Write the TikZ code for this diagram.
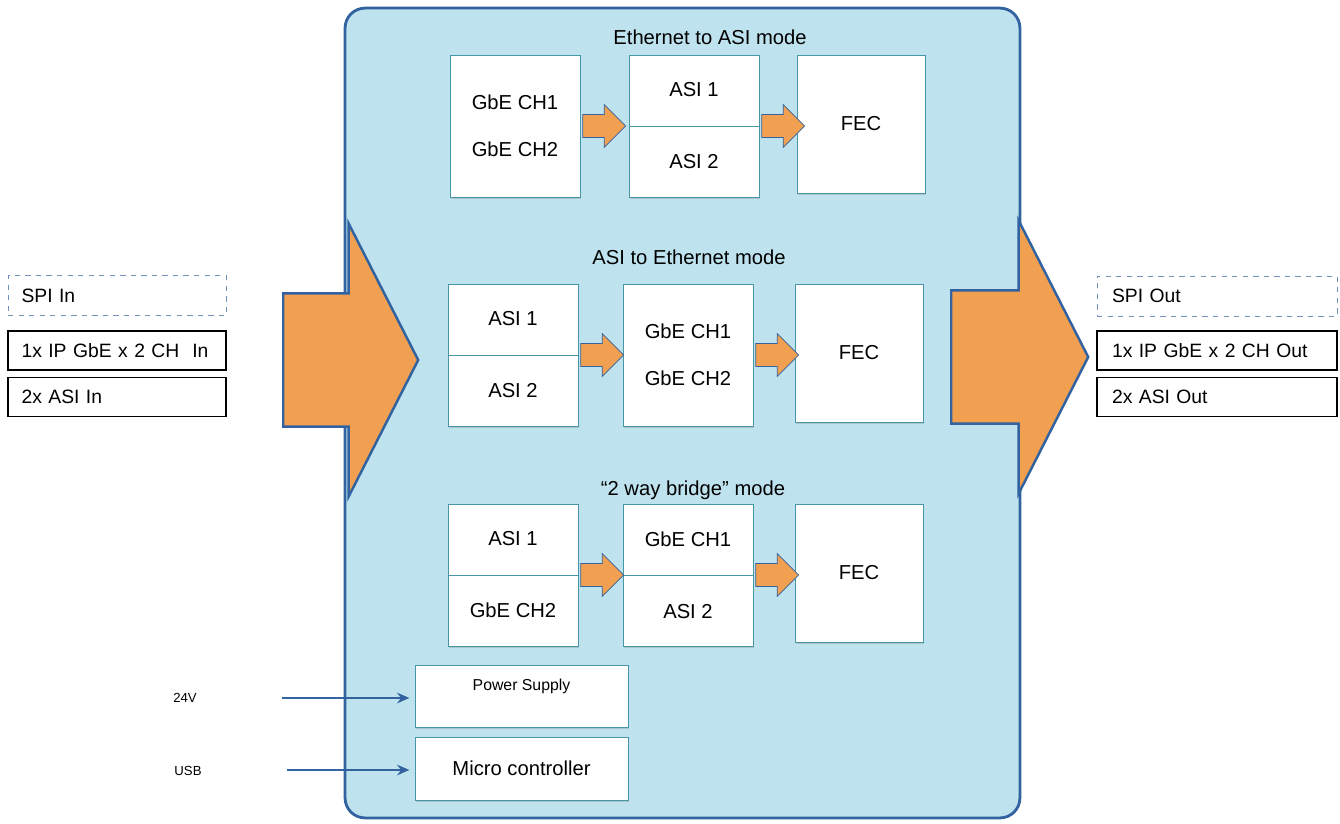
\documentclass[tikz,border=0pt]{standalone}
\usepackage{fontspec}
\setmainfont{Liberation Sans}
\usetikzlibrary{shadows,shapes.arrows,calc,arrows.meta}
\definecolor{panelblue}{RGB}{190,226,238}
\definecolor{edgeblue}{RGB}{50,98,160}
\definecolor{flowor}{RGB}{240,160,80}
\definecolor{blockedge}{RGB}{70,150,165}
\tikzstyle{panel}=[rectangle,draw=edgeblue,line width=1.6pt,fill=panelblue,rounded corners=0.4cm,minimum width=13.5cm,minimum height=16.2cm]
\tikzstyle{block}=[rectangle,draw=blockedge,fill=white,minimum width=2.6cm,minimum height=2.84cm,inner sep=0pt,align=center,font=\fontsize{11.5}{13}\selectfont,drop shadow={opacity=0.3,shadow xshift=0.6pt,shadow yshift=-1pt}]
\tikzstyle{fecblock}=[block,minimum width=2.56cm,minimum height=2.76cm]
\tikzstyle{flow}=[single arrow,draw=edgeblue,fill=flowor,minimum height=0.86cm,minimum width=0.86cm,single arrow head extend=0.2cm,inner xsep=0pt,inner ysep=0.22cm,anchor=tail]
\tikzstyle{bigflow}=[single arrow,draw=edgeblue,line width=1.4pt,fill=flowor,minimum height=2.7cm,minimum width=5.4cm,single arrow head extend=1.4cm,single arrow tip angle=126,inner xsep=0pt,inner ysep=1.31cm,anchor=tail]
\tikzstyle{portbox}=[draw=black,line width=1pt,minimum height=0.78cm,inner xsep=0.27cm,align=left,font=\fontsize{11}{13}\selectfont]
\tikzstyle{spibox}=[portbox,draw=edgeblue!70,dashed,line width=0.5pt,minimum height=0.8cm]
\tikzstyle{title}=[font=\fontsize{11.5}{13}\selectfont]
\tikzstyle{small}=[font=\fontsize{7.5}{9}\selectfont]
\tikzstyle{inarrow}=[draw=edgeblue,line width=1.4pt,-{Stealth[length=7pt,width=6pt]},shorten >=3pt]

\begin{document}
\begin{tikzpicture}[x=0.02cm,y=-0.02cm]
\useasboundingbox (0,0) rectangle (1340,823);

\node[panel] (panel) at (682.5,413) {};

% big in / out arrows
\node[bigflow] (bigin) at (282,360) {};
\node[bigflow,minimum height=2.74cm] (bigout) at (950,357) {};

% mode titles
\node[title] (t1) at (710,37) {Ethernet to ASI mode};
\node[title] (t2) at (689,257) {ASI to Ethernet mode};
\node[title] (t3) at (693,490) {``2 way bridge'' mode};

% mode blocks
\foreach \pos/ \name/ \txt in {{(515,126)/ea1/{GbE CH1\\[14pt]GbE CH2}}, {(694,126)/ea2/{ASI 1\\[28pt]ASI 2}},
                               {(513,355)/ae1/{ASI 1\\[28pt]ASI 2}}, {(688,355)/ae2/{GbE CH1\\[14pt]GbE CH2}},
                               {(513,575)/br1/{ASI 1\\[28pt]GbE CH2}}, {(688,575)/br2/{GbE CH1\\[28pt]ASI 2}}}
    \node[block] (\name) at \pos {\txt};

\foreach \pos/ \name in {{(861,124)/ea3}, {(859,353)/ae3}, {(859,573)/br3}}
    \node[fecblock] (\name) at \pos {FEC};

% split lines
\foreach \name in {ea2, ae1, br1, br2}
    \draw[blockedge] (\name.west) -- (\name.east);

% flow arrows between blocks
\foreach \source/ \dest in {ea1/ea2, ea2/ea3, ae1/ae2, ae2/ae3, br1/br2, br2/br3}
    \node[flow] (f\source) at ($(\source.east)+(2,0)$) {};

% ports
\node[spibox,minimum width=4.36cm,text width=3.82cm] (spiin) at (117,295.5) {SPI In};
\node[portbox,minimum width=4.36cm,text width=3.82cm] (ipin) at (117,350.5) {1x IP GbE x 2 CH\ \ In};
\node[portbox,minimum width=4.36cm,text width=3.82cm] (asiin) at (117,397) {2x ASI In};
\node[spibox,minimum width=4.8cm,text width=4.2cm] (spiout) at (1217,296) {SPI Out};
\node[portbox,minimum width=4.8cm,text width=4.2cm] (ipout) at (1217,350.5) {1x IP GbE x 2 CH Out};
\node[portbox,minimum width=4.8cm,text width=4.2cm] (asiout) at (1217,397) {2x ASI Out};

% power and control
\node[block,minimum width=4.26cm,minimum height=1.24cm] (psu) at (521.5,696) {};
\node[font=\fontsize{9}{11}\selectfont] (psutxt) at ($(psu.north)+(0,22)$) {Power Supply};
\node[block,minimum width=4.26cm,minimum height=1.26cm] (mcu) at (521.5,768.5) {Micro controller};

\node[small] (v24) at (185,698) {24V};
\node[small] (usb) at (188,771) {USB};
\coordinate (v24s) at (282,698);
\coordinate (usbs) at (287,770);
\draw[inarrow] (v24s) -- (v24s -| psu.west);
\draw[inarrow] (usbs) -- (usbs -| mcu.west);

\end{tikzpicture}
\end{document}
